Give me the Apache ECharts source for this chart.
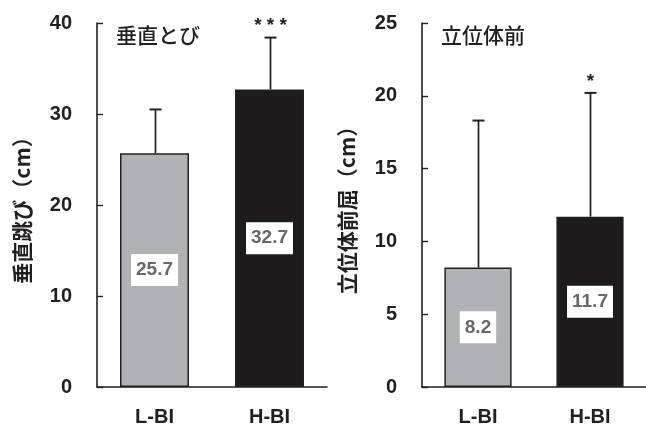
<!DOCTYPE html>
<html>
<head>
<meta charset="utf-8">
<script src="https://cdn.jsdelivr.net/npm/echarts@6/dist/echarts.min.js"></script>
<style>
  html, body { margin: 0; padding: 0; background: #fff; }
  #chart { width: 646px; height: 428px; }
</style>
</head>
<body>
<div id="chart"></div>
<script>
// Groups compared in both panels
const categories = ['L-BI', 'H-BI'];

// Vertical jump (cm): mean, SD, significance mark
const jumpMean = [25.7, 32.7];
const jumpSD = [4.8, 5.7];
const jumpSig = ['', '* * *'];
const jumpAxis = { min: 0, max: 40, interval: 10 };

// Standing forward bend (cm): mean, SD, significance mark
const reachMean = [8.2, 11.7];
const reachSD = [10.1, 8.5];
const reachSig = ['', '*'];
const reachAxis = { min: 0, max: 25, interval: 5 };

const INK = '#231f20';
const barColors = ['#b1b2b5', '#1e1b1c'];
const numFont = '"Liberation Sans", Arial, sans-serif';
const jpFont = '"Noto Sans CJK JP", sans-serif';

const chart = echarts.init(document.getElementById('chart'));

function xAxisFor(gridIndex) {
  return {
    type: 'category', gridIndex, data: categories,
    axisLine: { lineStyle: { color: INK, width: 1.6 } },
    axisTick: { inside: true, length: 8, lineStyle: { color: INK, width: 1.4 } },
    axisLabel: { color: INK, fontFamily: numFont, fontWeight: 'bold', fontSize: 20, margin: 20 }
  };
}

function yAxisFor(gridIndex, range, name) {
  return {
    type: 'value', gridIndex, min: range.min, max: range.max, interval: range.interval,
    name, nameLocation: 'middle', nameGap: 64, nameRotate: 90,
    nameTextStyle: { color: INK, fontFamily: jpFont, fontWeight: 'bold', fontSize: 21 },
    axisLine: { show: true, lineStyle: { color: INK, width: 1.6 } },
    axisTick: { show: true, inside: true, length: 6, lineStyle: { color: INK, width: 1.4 } },
    axisLabel: { color: INK, fontFamily: numFont, fontWeight: 'bold', fontSize: 20, margin: 25 },
    splitLine: { show: false }
  };
}

function barSeries(idx, means) {
  return {
    type: 'bar', xAxisIndex: idx, yAxisIndex: idx, barWidth: '60%',
    data: means.map((v, i) => ({
      value: v,
      itemStyle: { color: barColors[i], borderColor: INK, borderWidth: 1.5 }
    })),
    label: {
      show: true, position: 'inside',
      backgroundColor: '#fff', padding: [7, 5, 6, 5],
      color: '#666769', fontFamily: numFont, fontWeight: 'bold', fontSize: 19
    },
    z: 2
  };
}

// Upper SD whisker with cap, plus significance mark above it
function errorSeries(idx, means, sds, sigs) {
  return {
    type: 'custom', xAxisIndex: idx, yAxisIndex: idx,
    data: means.map((m, i) => [i, m, sds[i]]),
    renderItem(params, api) {
      const i = api.value(0), m = api.value(1), s = api.value(2);
      const base = api.coord([i, m]);
      const top = api.coord([i, m + s]);
      const x = Math.round(base[0]) + 0.5;
      const children = [
        { type: 'line', shape: { x1: x, y1: base[1], x2: x, y2: top[1] },
          style: { stroke: INK, lineWidth: 1.7 } },
        { type: 'line', shape: { x1: x - 6, y1: top[1], x2: x + 6, y2: top[1] },
          style: { stroke: INK, lineWidth: 2 } }
      ];
      const mark = sigs[params.dataIndex];
      if (mark) {
        children.push({
          type: 'text',
          style: { text: mark, x: x, y: top[1] - 2, align: 'center', verticalAlign: 'bottom',
                   fill: INK, font: 'bold 19px ' + numFont }
        });
      }
      return { type: 'group', children };
    },
    z: 3
  };
}

chart.setOption({
  backgroundColor: '#fff',
  animation: false,
  title: [
    { text: '垂直とび', left: 111, top: 20,
      textStyle: { fontFamily: jpFont, fontWeight: 500, fontSize: 21, color: INK } },
    { text: '立位体前', left: 436, top: 20,
      textStyle: { fontFamily: jpFont, fontWeight: 500, fontSize: 21, color: INK } }
  ],
  grid: [
    { left: 97, top: 23, width: 230, height: 364 },
    { left: 422, top: 23, width: 232, height: 364 }
  ],
  xAxis: [xAxisFor(0), xAxisFor(1)],
  yAxis: [
    yAxisFor(0, jumpAxis, '垂直跳び（cm）'),
    yAxisFor(1, reachAxis, '立位体前屈（cm）')
  ],
  series: [
    barSeries(0, jumpMean),
    errorSeries(0, jumpMean, jumpSD, jumpSig),
    barSeries(1, reachMean),
    errorSeries(1, reachMean, reachSD, reachSig)
  ]
});
</script>
</body>
</html>
